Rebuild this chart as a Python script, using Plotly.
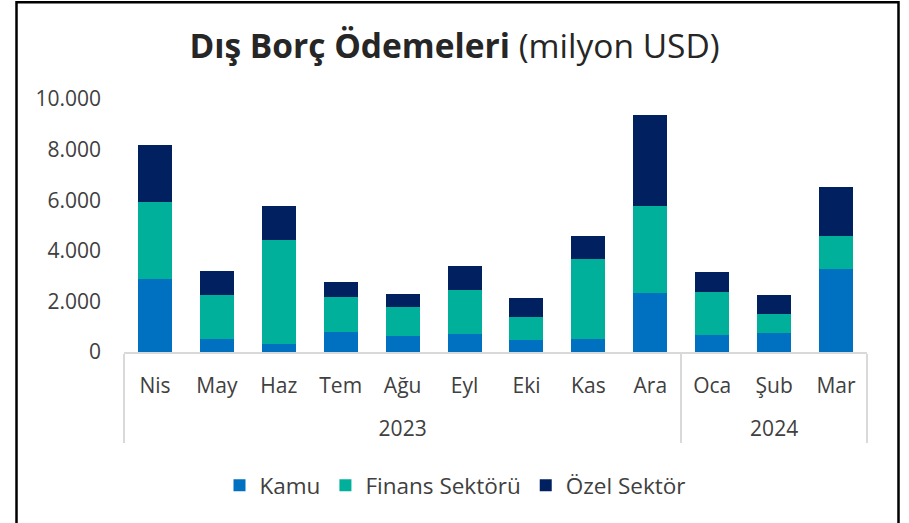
import plotly.graph_objects as go

months = ["Nis", "May", "Haz", "Tem", "Ağu", "Eyl", "Eki", "Kas", "Ara", "Oca", "Şub", "Mar"]
years = ["2023"] * 9 + ["2024"] * 3
kamu = [2870, 500, 330, 790, 650, 710, 460, 510, 2320, 660, 750, 3265]
finans = [3040, 1765, 4105, 1370, 1140, 1750, 910, 3175, 3440, 1710, 765, 1315]
ozel = [2280, 945, 1325, 620, 515, 930, 750, 890, 3620, 790, 735, 1950]

series = [("Kamu", kamu, "#0070C0"), ("Finans Sektörü", finans, "#00B09B"), ("Özel Sektör", ozel, "#002060")]

# year labels get a blank first line so they sit lower, as in the reference
year_labels = ["&nbsp;<br>" + y for y in years]

fig = go.Figure()
for name, vals, col in series:
    fig.add_trace(go.Bar(x=[year_labels, months], y=vals, name=name,
                         marker=dict(color=col, line=dict(width=0))))

W, H = 909, 523
L, R, T, B = 124, 42, 98.5, 171
pw, ph = W - L - R, H - T - B

def px(x):
    return (x - L) / pw

def py(y):
    return (H - B - y) / ph

FS = 21
fig.update_layout(
    width=W, height=H,
    barmode="stack", bargap=0.45,
    separators=",.",
    paper_bgcolor="white", plot_bgcolor="white",
    margin=dict(l=L, r=R, t=T, b=B, autoexpand=False),
    font=dict(family="Open Sans", size=FS, color="#404040"),
    title=dict(text="<b>Dış Borç Ödemeleri</b> (milyon USD)", x=0.5, xref="container", xanchor="center",
               y=1 - 46 / H, yref="container", yanchor="middle",
               font=dict(family="Open Sans", size=33.5, color="#262626")),
    showlegend=True,
    legend=dict(orientation="h", x=px(455), xanchor="center", y=py(486), yanchor="middle",
                traceorder="normal", font=dict(size=22.5, color="#404040"), itemwidth=30, tracegroupgap=0),
    xaxis=dict(type="multicategory", showline=True, linecolor="#D9D9D9", linewidth=1.5,
               showdividers=True, dividercolor="#D9D9D9", dividerwidth=1.5,
               ticklabelstandoff=14,
               tickfont=dict(size=FS, color="#404040"), showgrid=False, ticks=""),
    yaxis=dict(range=[0, 10000], tickvals=[0, 2000, 4000, 6000, 8000, 10000], tickformat=",d",
               showgrid=False, zeroline=False, showline=False, ticks="",
               ticklabelstandoff=22, tickfont=dict(size=FS, color="#404040")),
    shapes=[dict(type="rect", xref="paper", yref="paper", x0=px(16.5), x1=px(898.5), y0=py(540), y1=py(1.5),
                 line=dict(color="black", width=2.5), fillcolor="rgba(0,0,0,0)", layer="above")],
)

fig.write_html("out.html", config={"displayModeBar": False},
               post_script="document.body.style.margin='0';")
